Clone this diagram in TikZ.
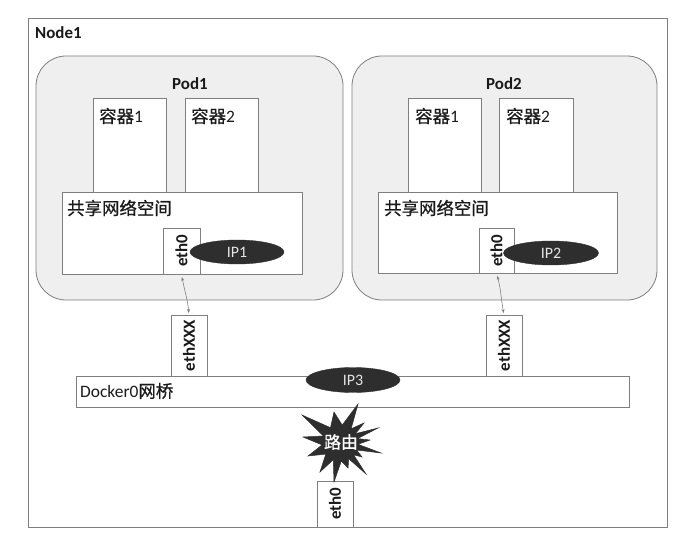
\documentclass[tikz,border=0pt]{standalone}
\usepackage{fontspec}
\setmainfont{Carlito}
\newfontfamily\cjk[FakeBold=0.7]{Noto Sans CJK SC}
\usetikzlibrary{arrows.meta,shapes.geometric}
\definecolor{linec}{HTML}{7F7F7F}
\definecolor{podfill}{HTML}{EFEFEF}
\definecolor{txt}{HTML}{1A1A1A}
\definecolor{ipfill}{HTML}{2E2E2E}
\definecolor{iptxt}{HTML}{E6E6E6}
\begin{document}
\begin{tikzpicture}[x=1bp,y=-1bp,
  box/.style={draw=linec, line width=0.8bp, fill=white, inner sep=0pt, outer sep=0pt, anchor=north west},
  podbox/.style={box, fill=podfill, rounded corners=30bp},
  lab/.style={text=txt, inner sep=0pt, anchor=west, font=\fontsize{17}{20}\selectfont},
  blab/.style={lab, font=\fontsize{17}{20}\selectfont\bfseries},
  clab/.style={lab, font=\fontsize{17.5}{20}\selectfont\cjk},
  vlab/.style={text=txt, inner sep=0pt, rotate=90, font=\fontsize{17}{20}\selectfont\bfseries},
  ip/.style={ellipse, fill=ipfill, draw=ipfill, inner sep=0pt, text=iptxt, font=\fontsize{16}{18}\selectfont},
  conn/.style={draw=linec, line width=0.6bp, {Stealth[length=4bp,width=3bp]}-{Stealth[length=4bp,width=3bp]}, shorten <=3bp, shorten >=2bp}
]
\useasboundingbox (0,0) rectangle (691,542);
\fill[white] (0,0) rectangle (691,542);

% outer node
\node[box, minimum width=639bp, minimum height=509bp] (outer) at (28,18) {};
\node[blab] (nodelab) at (35,33) {Node1};

% pods
\node[podbox, minimum width=307bp, minimum height=244bp] (pod1) at (36,56) {};
\node[podbox, minimum width=305bp, minimum height=244bp] (pod2) at (352,56) {};
\node[blab, anchor=center] (pod1lab) at (190,84) {Pod1};
\node[blab, anchor=center] (pod2lab) at (504,84) {Pod2};

% containers pod1
\node[box, minimum width=73bp, minimum height=95bp] (c11) at (93,98) {};
\node[box, minimum width=73bp, minimum height=95bp] (c12) at (185,98) {};
\node[clab] (c11lab) at (99,116) {容器\fontspec{Carlito}1};
\node[clab] (c12lab) at (191,116) {容器\fontspec{Carlito}2};
% containers pod2
\node[box, minimum width=73bp, minimum height=95bp] (c21) at (408,98) {};
\node[box, minimum width=74bp, minimum height=95bp] (c22) at (499,98) {};
\node[clab] (c21lab) at (415,116) {容器\fontspec{Carlito}1};
\node[clab] (c22lab) at (506,116) {容器\fontspec{Carlito}2};

% shared network spaces
\node[box, minimum width=240bp, minimum height=82bp] (net1) at (62,192) {};
\node[box, minimum width=239bp, minimum height=81bp] (net2) at (378,192) {};
\node[clab] (net1lab) at (67,208) {共享网络空间};
\node[clab] (net2lab) at (384,208) {共享网络空间};

% eth0 inside pods
\node[box, minimum width=37bp, minimum height=46bp] (eth01) at (163,228) {};
\node[vlab] (eth01lab) at (eth01.center) {eth0};
\node[box, minimum width=35bp, minimum height=45bp] (eth02) at (479,228) {};
\node[vlab] (eth02lab) at (eth02.center) {eth0};

\node[ip, minimum width=94bp, minimum height=24bp] (ip1) at (237,252) {IP1};
\node[ip, minimum width=95bp, minimum height=24bp] (ip2) at (551,253) {IP2};

% ethXXX
\node[box, minimum width=36bp, minimum height=61bp] (xxx1) at (171,315) {};
\node[vlab] (xxx1lab) at (xxx1.center) {ethXXX};
\node[box, minimum width=36bp, minimum height=61bp] (xxx2) at (486,315) {};
\node[vlab] (xxx2lab) at (xxx2.center) {ethXXX};

% bridge
\node[box, minimum width=553bp, minimum height=31bp] (bridge) at (76,376) {};
\node[lab, font=\fontsize{17.5}{20}\selectfont] (bridgelab) at (80,391) {Docker0{\cjk 网桥}};
\node[ip, minimum width=94bp, minimum height=25bp] (ip3) at (353,380) {IP3};

% bottom eth0
\node[box, minimum width=36bp, minimum height=46bp] (eth0b) at (317,481) {};
\node[vlab] (eth0blab) at (eth0b.center) {eth0};

% router star
\fill[ipfill, draw=ipfill, line width=0.5bp] (358,404) -- (342.2,425.1) -- (334,412) -- (330.5,427.7) -- (302,415) -- (323.4,436) -- (303,437) -- (322.1,444.9) -- (308,456) -- (325.8,454.1) -- (320,472) -- (333.3,459.7) -- (334,482) -- (341.3,461) -- (348,468) -- (348.7,458.7) -- (366,474) -- (353.6,454.8) -- (362,457) -- (356.6,450) -- (381,453) -- (358,444.3) -- (370,440) -- (357.5,438.6) -- (378,428) -- (355.4,433.7) -- (364,423) -- (351.1,428.8) -- cycle;
\node[text=white, inner sep=0pt, font=\fontsize{17}{20}\selectfont\cjk] (route) at (341,442) {路由};

% connectors
\draw[conn] (eth01.south) to[out=-80, in=95] (xxx1.north);
\draw[conn] (eth02.south) to[out=-75, in=100] (xxx2.north);
\end{tikzpicture}
\end{document}
